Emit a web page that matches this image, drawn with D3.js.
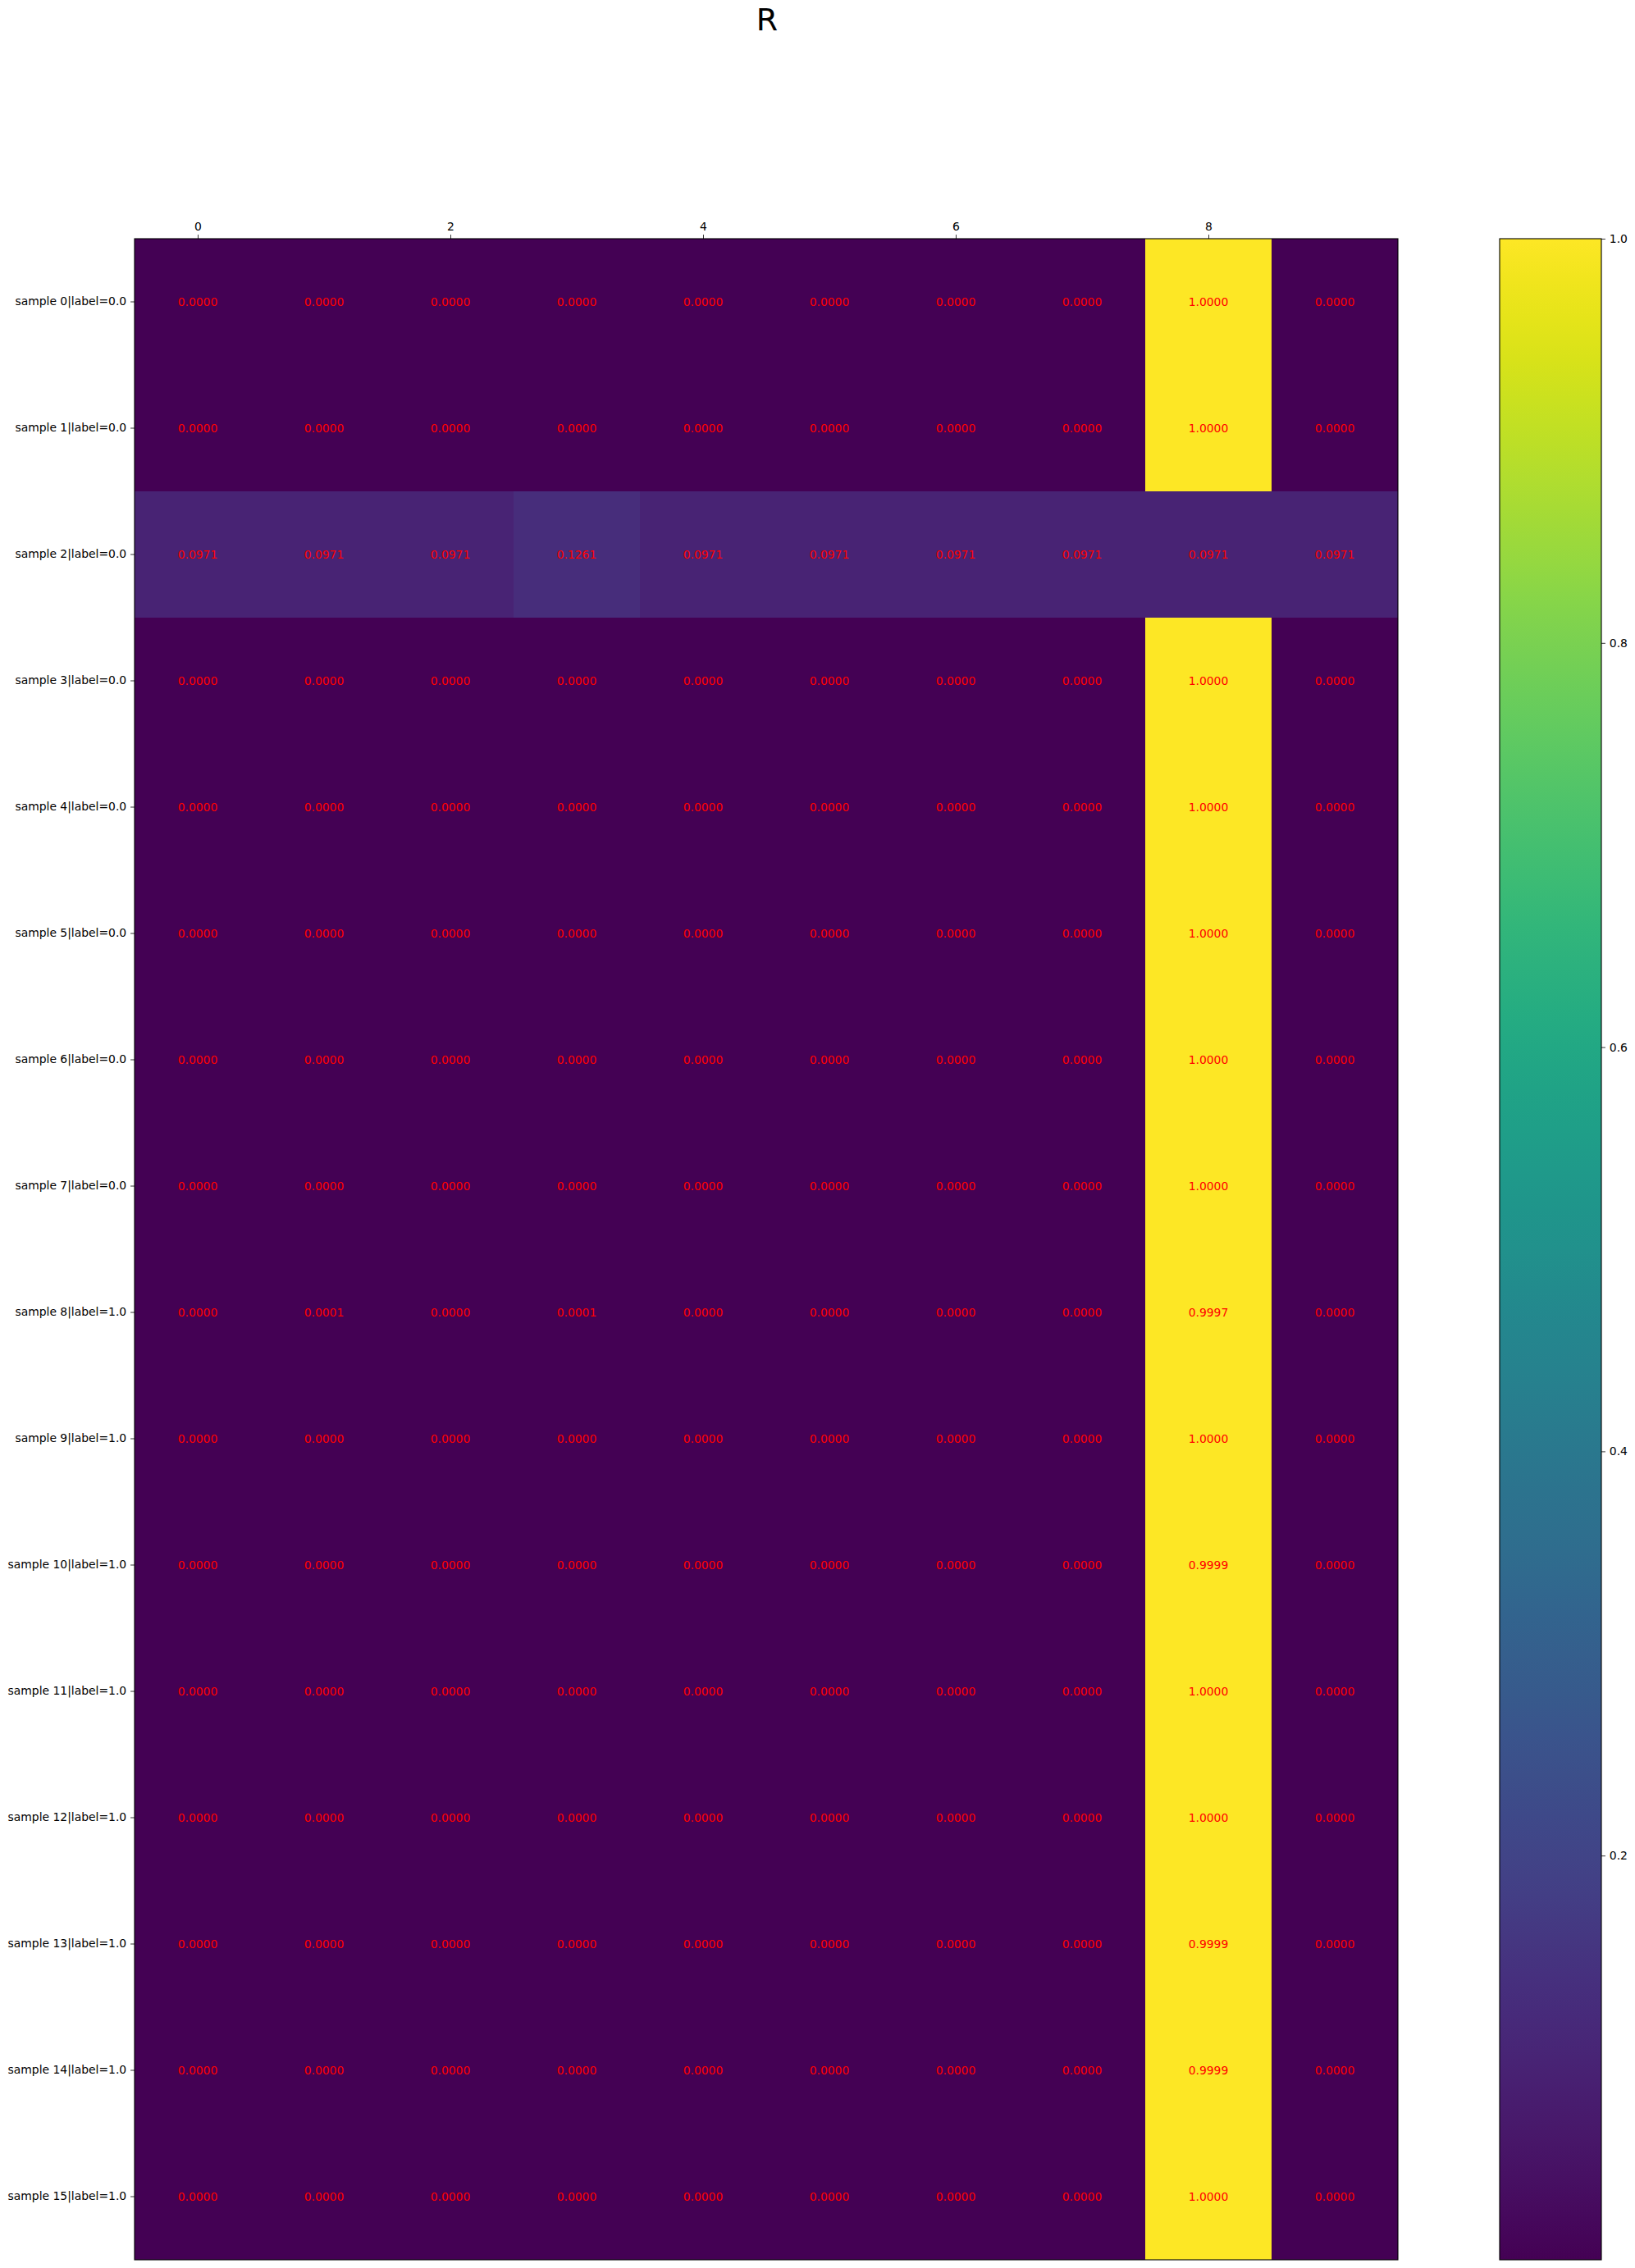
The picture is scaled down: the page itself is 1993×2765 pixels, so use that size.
<!DOCTYPE html>
<html>
<head>
<meta charset="utf-8">
<script src="https://cdn.jsdelivr.net/npm/d3@7"></script>
<style>
  body { margin: 0; background: #fff; }
  svg { display: block; font-family: "DejaVu Sans", sans-serif; }
</style>
</head>
<body>
<svg id="chart" width="1993" height="2765"></svg>
<script>
// data
var title = "R";
var columns = [0, 1, 2, 3, 4, 5, 6, 7, 8, 9];
var rowLabels = [
	"sample 0|label=0.0", "sample 1|label=0.0", "sample 2|label=0.0", "sample 3|label=0.0",
	"sample 4|label=0.0", "sample 5|label=0.0", "sample 6|label=0.0", "sample 7|label=0.0",
	"sample 8|label=1.0", "sample 9|label=1.0", "sample 10|label=1.0", "sample 11|label=1.0",
	"sample 12|label=1.0", "sample 13|label=1.0", "sample 14|label=1.0", "sample 15|label=1.0"
];
var values = [
	[0, 0, 0, 0, 0, 0, 0, 0, 1.0, 0],
	[0, 0, 0, 0, 0, 0, 0, 0, 1.0, 0],
	[0.0971, 0.0971, 0.0971, 0.1261, 0.0971, 0.0971, 0.0971, 0.0971, 0.0971, 0.0971],
	[0, 0, 0, 0, 0, 0, 0, 0, 1.0, 0],
	[0, 0, 0, 0, 0, 0, 0, 0, 1.0, 0],
	[0, 0, 0, 0, 0, 0, 0, 0, 1.0, 0],
	[0, 0, 0, 0, 0, 0, 0, 0, 1.0, 0],
	[0, 0, 0, 0, 0, 0, 0, 0, 1.0, 0],
	[0, 0.0001, 0, 0.0001, 0, 0, 0, 0, 0.9997, 0],
	[0, 0, 0, 0, 0, 0, 0, 0, 1.0, 0],
	[0, 0, 0, 0, 0, 0, 0, 0, 0.9999, 0],
	[0, 0, 0, 0, 0, 0, 0, 0, 1.0, 0],
	[0, 0, 0, 0, 0, 0, 0, 0, 1.0, 0],
	[0, 0, 0, 0, 0, 0, 0, 0, 0.9999, 0],
	[0, 0, 0, 0, 0, 0, 0, 0, 0.9999, 0],
	[0, 0, 0, 0, 0, 0, 0, 0, 1.0, 0]
];
var xTicks = [0, 2, 4, 6, 8];
var cbarTicks = [0.2, 0.4, 0.6, 0.8, 1.0];

var svg = d3.select("#chart"),
	plotLeft = 164,
	plotTop = 291,
	plotW = 1540,
	plotH = 2464,
	cbarX = 1828,
	cbarW = 124,
	tickSize = 4.9,
	tickPad = 4.9,
	fontSize = 13.9;

var color = d3.scaleSequential(d3.interpolateViridis).domain([0, 1]);

var x = d3.scaleLinear().domain([-0.5, columns.length - 0.5]).range([plotLeft, plotLeft + plotW]);
var y = d3.scaleBand().domain(rowLabels).range([plotTop, plotTop + plotH]).padding(0);

var cells = [];
values.forEach(function(row, i) {
	row.forEach(function(v, j) {
		cells.push({ row: rowLabels[i], col: columns[j], v: v });
	});
});

// heatmap cells
svg.append("g")
	.selectAll("rect")
	.data(cells)
	.enter()
	.append("rect")
	.attr("x", (d) => x(d.col - 0.5))
	.attr("y", (d) => y(d.row))
	.attr("width", (d) => x(d.col + 0.5) - x(d.col - 0.5))
	.attr("height", y.bandwidth())
	.attr("fill", (d) => color(d.v))
	.attr("shape-rendering", "crispEdges");

// cell annotations
svg.append("g")
	.selectAll("text")
	.data(cells)
	.enter()
	.append("text")
	.attr("x", (d) => x(d.col))
	.attr("y", (d) => y(d.row) + y.bandwidth() / 2)
	.attr("dy", "0.35em")
	.attr("text-anchor", "middle")
	.attr("font-size", fontSize)
	.attr("fill", "#ff0000")
	.text((d) => d.v.toFixed(4));

// frame
svg.append("rect")
	.attr("x", plotLeft)
	.attr("y", plotTop)
	.attr("width", plotW)
	.attr("height", plotH)
	.attr("fill", "none")
	.attr("stroke", "#000")
	.attr("stroke-width", 1.1);

// top axis
var xAxis = svg.append("g")
	.attr("transform", "translate(0," + plotTop + ")")
	.call(d3.axisTop(x).tickValues(xTicks).tickFormat(d3.format("d")).tickSize(tickSize).tickPadding(tickPad));
xAxis.select(".domain").remove();

// left axis
var yAxis = svg.append("g")
	.attr("transform", "translate(" + plotLeft + ",0)")
	.call(d3.axisLeft(y).tickSize(tickSize).tickPadding(tickPad));
yAxis.select(".domain").remove();

svg.selectAll(".tick text")
	.attr("font-size", fontSize)
	.attr("font-family", "DejaVu Sans")
	.attr("fill", "#000");
svg.selectAll(".tick line").attr("stroke", "#000").attr("stroke-width", 0.8);

// colorbar
var cScale = d3.scaleLinear().domain([0, 1]).range([plotTop + plotH, plotTop]);
var grad = svg.append("defs")
	.append("linearGradient")
	.attr("id", "viridis")
	.attr("x1", 0).attr("y1", 1)
	.attr("x2", 0).attr("y2", 0);
grad.selectAll("stop")
	.data(d3.range(0, 1.0001, 0.02))
	.enter()
	.append("stop")
	.attr("offset", (d) => d)
	.attr("stop-color", (d) => color(d));

svg.append("rect")
	.attr("x", cbarX)
	.attr("y", plotTop)
	.attr("width", cbarW)
	.attr("height", plotH)
	.attr("fill", "url(#viridis)")
	.attr("stroke", "#000")
	.attr("stroke-width", 1.1);

var cAxis = svg.append("g")
	.attr("transform", "translate(" + (cbarX + cbarW) + ",0)")
	.call(d3.axisRight(cScale).tickValues(cbarTicks).tickFormat(d3.format(".1f")).tickSize(tickSize).tickPadding(tickPad));
cAxis.select(".domain").remove();
cAxis.selectAll(".tick text")
	.attr("font-size", fontSize)
	.attr("font-family", "DejaVu Sans")
	.attr("fill", "#000");
cAxis.selectAll(".tick line").attr("stroke", "#000").attr("stroke-width", 0.8);

// title
svg.append("text")
	.attr("x", 935)
	.attr("y", 37)
	.attr("text-anchor", "middle")
	.attr("font-size", 38)
	.attr("fill", "#000")
	.text(title);
</script>
</body>
</html>
